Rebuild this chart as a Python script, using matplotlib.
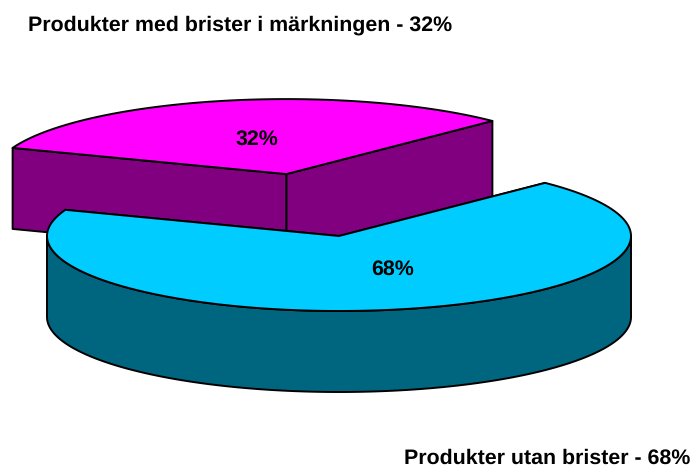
import numpy as np
import matplotlib
matplotlib.use('Agg')
import matplotlib.pyplot as plt
from matplotlib.patches import Polygon

plt.rcParams['font.family'] = ['Liberation Sans', 'DejaVu Sans']
plt.rcParams['text.hinting'] = 'no_hinting'

values = [31.8, 68.2]
labels = ['32%', '68%']
names = ['Produkter med brister i märkningen - 32%', 'Produkter utan brister - 68%']
top_colors = ['#ff00ff', '#00ccff']
side_colors = ['#800080', '#006680']
explode = [0.845, 0.0]

# pie geometry in image pixels
cx, cy = 339, 236
rx, ry = 292, 75
depth = 81
start = 45.1


def arc(a0, a1, ox, oy):
    t = np.radians(np.linspace(a0, a1, 200))
    return np.column_stack([ox + rx * np.cos(t), oy - ry * np.sin(t)])


fig = plt.figure(figsize=(6.91, 4.67), dpi=100)
ax = fig.add_axes([0, 0, 1, 1])
ax.set_xlim(0, 691)
ax.set_ylim(467, 0)
ax.axis('off')

edge = dict(edgecolor='black', linewidth=1.4, joinstyle='round')

angle = start
for i, v in enumerate(values):
    sweep = v / sum(values) * 360
    a0, a1 = angle, angle + sweep
    mid = np.radians((a0 + a1) / 2)
    ox = cx + explode[i] * rx * np.cos(mid)
    oy = cy - explode[i] * ry * np.sin(mid)
    tip = np.array([ox, oy])
    down = np.array([0, depth])
    p0 = arc(a0, a0, ox, oy)[0]
    p1 = arc(a1, a1, ox, oy)[0]

    # cut faces
    for p in (p0, p1):
        ax.add_patch(Polygon([tip, p, p + down, tip + down], facecolor=side_colors[i], zorder=2 + i * 2, **edge))
    # front rim
    lo, hi = max(a0, 180), min(a1, 360)
    if hi > lo:
        rim = arc(lo, hi, ox, oy)
        ax.add_patch(Polygon(np.vstack([rim, (rim + down)[::-1]]), facecolor=side_colors[i], zorder=2 + i * 2, **edge))
    # top
    ax.add_patch(Polygon(np.vstack([tip, arc(a0, a1, ox, oy)]), facecolor=top_colors[i], zorder=3 + i * 2, **edge))
    angle = a1

ax.text(257, 139, labels[0], ha='center', va='center', fontsize=15.4, fontweight='bold', zorder=10)
ax.text(393, 269, labels[1], ha='center', va='center', fontsize=15.4, fontweight='bold', zorder=10)
ax.text(28, 25, names[0], ha='left', va='center', fontsize=15.4, fontweight='bold')
ax.text(690, 458, names[1], ha='right', va='center', fontsize=15.4, fontweight='bold')

fig.savefig('out.png', dpi=100)
